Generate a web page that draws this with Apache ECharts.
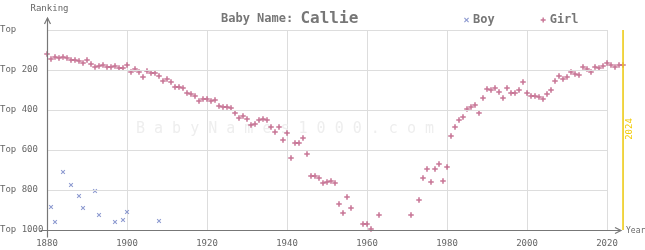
<!DOCTYPE html>
<html><head><meta charset="utf-8">
<script src="https://cdn.jsdelivr.net/npm/echarts@6/dist/echarts.min.js"></script>
<style>html,body{margin:0;padding:0;background:#fff}#c{width:645px;height:250px}</style>
</head><body><div id="c"></div>
<script>
const babyName = 'Callie';
const currentYear = 2024;
const xTicks = [1880, 1900, 1920, 1940, 1960, 1980, 2000, 2020];
const rankTicks = [0, 200, 400, 600, 800, 1000];

const girlYears = [1880,1881,1882,1883,1884,1885,1886,1887,1888,1889,1890,1891,1892,1893,1894,1895,1896,1897,1898,1899,
  1900,1901,1902,1903,1904,1905,1906,1907,1908,1909,1910,1911,1912,1913,1914,1915,1916,1917,1918,1919,
  1920,1921,1922,1923,1924,1925,1926,1927,1928,1929,1930,1931,1932,1933,1934,1935,1936,1937,1938,1939,
  1940,1941,1942,1943,1944,1945,1946,1947,1948,1949,1950,1951,1952,1953,1954,1955,1956,1959,1960,1961,1963,
  1971,1973,1974,1975,1976,1977,1978,1979,1980,1981,1982,1983,1984,1985,1986,1987,1988,1989,
  1990,1991,1992,1993,1994,1995,1996,1997,1998,1999,2000,2001,2002,2003,2004,2005,2006,2007,2008,2009,
  2010,2011,2012,2013,2014,2015,2016,2017,2018,2019,2020,2021,2022,2023,2024];
const girlRanks = [120,145,135,140,135,140,150,150,155,165,150,170,185,180,175,185,185,180,190,190,
  175,210,195,210,235,205,215,215,230,255,245,260,285,285,290,315,320,330,355,345,
  345,355,350,380,385,385,390,415,440,430,445,475,470,450,445,450,485,510,485,550,
  515,640,565,565,540,620,730,730,740,765,760,755,765,870,915,835,890,970,970,995,925,
  925,850,740,695,760,695,670,755,685,530,485,450,435,395,385,375,415,340,
  295,300,290,310,340,290,315,315,300,260,315,330,330,335,345,320,300,255,230,245,
  235,210,220,225,185,195,210,185,190,180,165,175,185,175,175];

const boyYears = [1881,1882,1884,1886,1888,1889,1892,1893,1897,1899,1900,1908];
const boyRanks = [885,960,710,775,830,890,805,925,960,950,910,955];

const mono = '"DejaVu Sans Mono", monospace';
const plusPath = 'path://M1.8,0H3.2V1.8H5V3.2H3.2V5H1.8V3.2H0V1.8H1.8Z';
const crossPath = 'path://M0,0.8L0.8,0L2.5,1.7L4.2,0L5,0.8L3.3,2.5L5,4.2L4.2,5L2.5,3.3L0.8,5L0,4.2L1.7,2.5Z';
const girlColor = '#b9517a';
const boyColor = '#6f80c4';
const gold = '#f2cc0c';

const chart = echarts.init(document.getElementById('c'), null, {renderer: 'canvas'});
const zip = (a, b) => a.map((v, i) => [v, b[i]]);

chart.setOption({
  animation: false,
  grid: {left: 47, right: 22, top: 30, bottom: 20, containLabel: false, outerBoundsMode: 'none'},
  title: {
    text: '{a|Baby Name: }{b|' + babyName + '}',
    left: 216, top: 6,
    textStyle: {rich: {
      a: {fontFamily: mono, fontSize: 12, fontWeight: 'bold', color: '#777'},
      b: {fontFamily: mono, fontSize: 16, color: '#777'}
    }}
  },
  legend: {
    left: 459, top: 9, itemGap: 46, itemWidth: 5, itemHeight: 5,
    textStyle: {fontFamily: mono, fontSize: 12, fontWeight: 'bold', color: '#777', padding: [0, 0, 0, -1]},
    data: ['Boy', 'Girl']
  },
  xAxis: {
    type: 'value', min: 1880, max: currentYear, interval: 20,
    axisLine: {show: false}, axisTick: {show: false},
    splitLine: {show: true, lineStyle: {color: '#dddddd', width: 1}},
    axisLabel: {
      fontFamily: mono, fontSize: 9, color: '#666', margin: 9,
      formatter: v => xTicks.includes(v) ? String(v) : ''
    }
  },
  yAxis: {
    type: 'value', min: 0, max: 1000, interval: 200, inverse: true,
    axisLine: {show: false}, axisTick: {show: false},
    splitLine: {show: false},
    axisLabel: {
      fontFamily: mono, fontSize: 9, color: '#666', align: 'left', margin: 47,
      formatter: v => v === 0 ? 'Top' : 'Top ' + v
    }
  },
  series: [
    {
      name: 'grid', type: 'line', data: [], silent: true,
      markLine: {
        silent: true, symbol: 'none', animation: false,
        label: {show: false},
        lineStyle: {color: '#dddddd', width: 1, type: 'solid'},
        data: rankTicks.filter(v => v < 1000).map(v => [{coord: [xTicks[0], v]}, {coord: [xTicks[xTicks.length - 1], v]}])
      }
    },
    {
      name: 'year', type: 'line', data: [], silent: true,
      markLine: {
        silent: true, symbol: 'none', animation: false,
        label: {show: false},
        lineStyle: {color: gold, width: 1.5, type: 'solid'},
        data: [[{coord: [currentYear, 0]}, {coord: [currentYear, 1000]}]]
      }
    },
    {
      name: 'Boy', type: 'scatter', data: zip(boyYears, boyRanks),
      symbol: crossPath, symbolSize: 4.5, itemStyle: {color: boyColor}
    },
    {
      name: 'Girl', type: 'scatter', data: zip(girlYears, girlRanks),
      symbol: plusPath, symbolSize: 5.5, itemStyle: {color: girlColor}, clip: false
    }
  ]
});

const o = chart.convertToPixel({gridIndex: 0}, [1880, 1000]);
const t = chart.convertToPixel({gridIndex: 0}, [1880, 0]);
const r = chart.convertToPixel({gridIndex: 0}, [currentYear, 1000]);
const mid = chart.convertToPixel({gridIndex: 0}, [currentYear, 500]);
const axisStyle = {stroke: '#777', lineWidth: 1.2, fill: null};
const ox = Math.round(o[0]) + 0.5, oy = Math.round(o[1]) + 0.5;
const ty = t[1];
const rx = r[0];
chart.setOption({
  graphic: [
    {type: 'text', left: 136, top: 122, silent: true, z: 0,
      style: {text: 'B a b y N a m e s 1 0 0 0 . c o m', fontFamily: mono, fontSize: 15, fill: '#eeeeee'}},
    {type: 'polyline', silent: true, z: 100, shape: {points: [[ox, oy + 7], [ox, ty - 12]]}, style: axisStyle},
    {type: 'polyline', silent: true, z: 100, shape: {points: [[ox - 3, ty - 6], [ox, ty - 12], [ox + 3, ty - 6]]}, style: axisStyle},
    {type: 'polyline', silent: true, z: 100, shape: {points: [[ox - 7, oy], [rx - 2, oy]]}, style: axisStyle},
    {type: 'polyline', silent: true, z: 100, shape: {points: [[rx - 8, oy - 3], [rx - 2, oy], [rx - 8, oy + 3]]}, style: axisStyle},
    {type: 'text', silent: true, x: ox + 2, y: ty - 21,
      style: {text: 'Ranking', fontFamily: mono, fontSize: 9, fill: '#666', align: 'center', verticalAlign: 'middle'}},
    {type: 'text', silent: true, x: rx + 3, y: oy,
      style: {text: 'Year', fontFamily: mono, fontSize: 8, fill: '#666', align: 'left', verticalAlign: 'middle'}},
    {type: 'text', silent: true, x: rx + 7, y: mid[1] - 1, rotation: Math.PI / 2,
      style: {text: String(currentYear), fontFamily: mono, fontSize: 9, fill: gold, align: 'center', verticalAlign: 'middle'}}
  ]
});
</script>
</body></html>
